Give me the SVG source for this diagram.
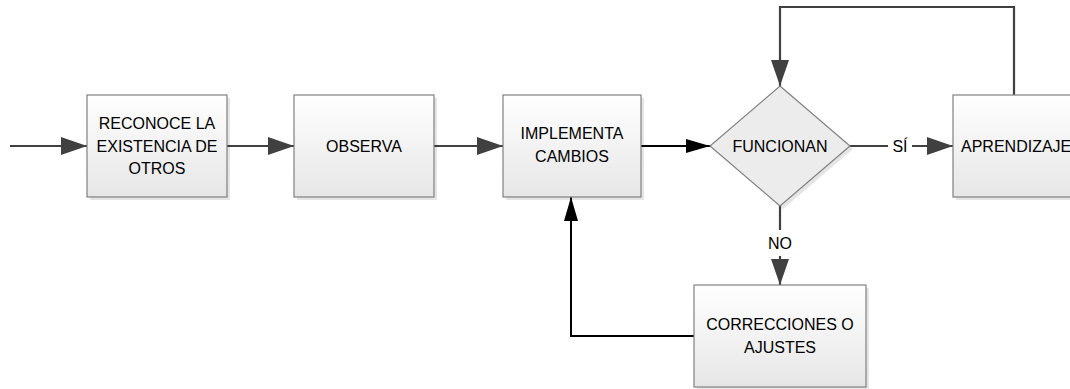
<svg xmlns="http://www.w3.org/2000/svg" width="1070" height="389" viewBox="0 0 1070 389">
<defs>
<linearGradient id="g" x1="0" y1="0" x2="0" y2="1">
<stop offset="0" stop-color="#ffffff"/>
<stop offset="1" stop-color="#e6e6e6"/>
</linearGradient>
<marker id="ag" markerUnits="userSpaceOnUse" markerWidth="26" markerHeight="18" refX="26" refY="9" orient="auto">
<path d="M0,0 L26,9 L0,18 Z" fill="#404040"/>
</marker>
<marker id="ab" markerUnits="userSpaceOnUse" markerWidth="24" markerHeight="16" refX="24" refY="8" orient="auto">
<path d="M0,1 L24,8 L0,15 Z" fill="#000000"/>
</marker>
<style>
.box{fill:url(#g);stroke:#808080;stroke-width:1.2}
.sh{fill:#000;opacity:0.1}
.dia{fill:#ececec;stroke:#808080;stroke-width:1.2}
.cg{fill:none;stroke:#404040;stroke-width:2.2}
.cb{fill:none;stroke:#000;stroke-width:2}
text{font-family:"Liberation Sans",Arial,sans-serif;font-size:16px;fill:#000;text-anchor:middle}
</style>
</defs>
<g id="connectors">
<path class="cg" d="M10,146 H87" marker-end="url(#ag)"/>
<path class="cg" d="M227,146 H294" marker-end="url(#ag)"/>
<path class="cg" d="M434,146 H503" marker-end="url(#ag)"/>
<path class="cb" d="M641,146 H710" marker-end="url(#ab)"/>
<path class="cg" d="M849,146 H888"/>
<path class="cg" d="M912,146 H953" marker-end="url(#ag)"/>
<path class="cg" d="M1014,95 V7 H780 V86" marker-end="url(#ag)"/>
<path class="cg" d="M780,205 V230"/>
<path class="cg" d="M780,256 V285" marker-end="url(#ag)"/>
<path class="cb" d="M694,336 H571 V197" marker-end="url(#ab)"/>
<text x="900" y="152">SÍ</text>
<text x="780" y="249">NO</text>
</g>
<g id="n1">
<rect class="sh" x="90" y="98" width="140" height="102"/>
<rect class="box" x="87" y="95" width="140" height="102"/>
<text x="157" y="129">RECONOCE LA</text>
<text x="157" y="152">EXISTENCIA DE</text>
<text x="157" y="174">OTROS</text>
</g>
<g id="n2">
<rect class="sh" x="297" y="98" width="140" height="102"/>
<rect class="box" x="294" y="95" width="140" height="102"/>
<text x="364" y="152">OBSERVA</text>
</g>
<g id="n3">
<rect class="sh" x="506" y="98" width="138" height="102"/>
<rect class="box" x="503" y="95" width="138" height="102"/>
<text x="572" y="139">IMPLEMENTA</text>
<text x="572" y="162">CAMBIOS</text>
</g>
<g id="n4">
<path class="sh" d="M783,89 L853,149 L783,209 L713,149 Z"/>
<path class="dia" d="M780,86 L850,146 L780,206 L710,146 Z"/>
<text x="780" y="152">FUNCIONAN</text>
</g>
<g id="n5">
<rect class="sh" x="956" y="98" width="140" height="102"/>
<rect class="box" x="953" y="95" width="140" height="102"/>
<text x="961" y="152" style="text-anchor:start">APRENDIZAJE</text>
</g>
<g id="n6">
<rect class="sh" x="697" y="288" width="172" height="102"/>
<rect class="box" x="694" y="285" width="172" height="102"/>
<text x="780" y="330">CORRECCIONES O</text>
<text x="780" y="353">AJUSTES</text>
</g>
</svg>
